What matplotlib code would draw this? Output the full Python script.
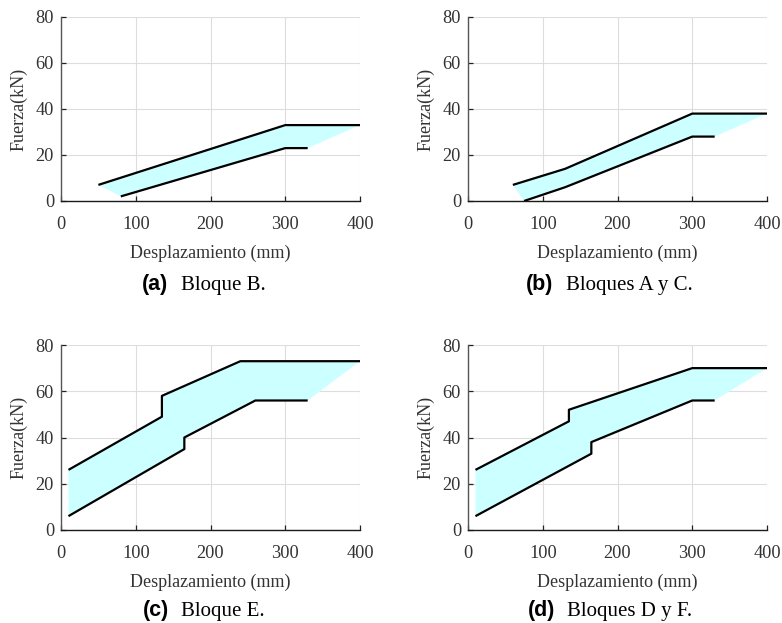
import numpy as np
import matplotlib
matplotlib.use("Agg")
import matplotlib.pyplot as plt

# Force-displacement envelopes for each block group (x in mm, y in kN)
a_upper_x = [50, 300, 400]
a_upper_y = [7, 33, 33]
a_lower_x = [80, 300, 330]
a_lower_y = [2, 23, 23]

b_upper_x = [60, 130, 300, 400]
b_upper_y = [7, 14, 38, 38]
b_lower_x = [75, 130, 300, 330]
b_lower_y = [0, 6, 28, 28]

c_upper_x = [10, 135, 135, 240, 400]
c_upper_y = [26, 49, 58, 73, 73]
c_lower_x = [10, 165, 165, 260, 330]
c_lower_y = [6, 35, 40, 56, 56]

d_upper_x = [10, 135, 135, 300, 400]
d_upper_y = [26, 47, 52, 70, 70]
d_lower_x = [10, 165, 165, 300, 330]
d_lower_y = [6, 33, 38, 56, 56]

panel_tags = ["(a)", "(b)", "(c)", "(d)"]
panel_titles = ["Bloque B.", "Bloques A y C.", "Bloque E.", "Bloques D y F."]

x_ticks = [0, 100, 200, 300, 400]
y_ticks = [0, 20, 40, 60, 80]

SERIF = "Liberation Serif"
W, H = 782, 623
fig = plt.figure(figsize=(W / 100, H / 100), dpi=100)


def px_rect(left, top, right, bottom):
    return [left / W, 1 - bottom / H, (right - left) / W, (bottom - top) / H]


rects = [
    px_rect(61, 17, 360, 201),
    px_rect(468, 17, 767, 201),
    px_rect(61, 345, 360, 530),
    px_rect(468, 345, 767, 530),
]
series = [
    (a_upper_x, a_upper_y, a_lower_x, a_lower_y),
    (b_upper_x, b_upper_y, b_lower_x, b_lower_y),
    (c_upper_x, c_upper_y, c_lower_x, c_lower_y),
    (d_upper_x, d_upper_y, d_lower_x, d_lower_y),
]
# caption anchor points: (tag left x, title left x, baseline y) in pixels
caption_pos = [(142, 181, 290), (526, 566, 290), (143, 181, 616), (528, 567, 616)]

for rect, (ux, uy, lx, ly), tag, title, (tx, sx, by) in zip(
        rects, series, panel_tags, panel_titles, caption_pos):
    ax = fig.add_axes(rect)
    poly_x = np.concatenate([ux, lx[::-1]])
    poly_y = np.concatenate([uy, ly[::-1]])
    ax.fill(poly_x, poly_y, color="#ccffff", lw=0, zorder=2)
    ax.plot(ux, uy, color="black", lw=1.6, zorder=3, solid_capstyle="butt")
    ax.plot(lx, ly, color="black", lw=1.6, zorder=3, solid_capstyle="butt")

    ax.set_xlim(0, 400)
    ax.set_ylim(0, 80)
    ax.set_xticks(x_ticks)
    ax.set_yticks(y_ticks)
    ax.grid(True, color="#dddddd", lw=0.8, zorder=0)
    ax.set_axisbelow(True)
    for s in ["top", "right"]:
        ax.spines[s].set_visible(False)
    ax.spines["left"].set_color("#555555")
    ax.spines["bottom"].set_color("#1a1a1a")
    ax.spines["left"].set_linewidth(1.0)
    ax.spines["bottom"].set_linewidth(1.0)
    ax.tick_params(direction="in", length=3.5, width=0.9, color="#222222",
                   labelsize=13.2, labelcolor="#333333")
    ax.tick_params(axis="x", pad=10.5)
    ax.tick_params(axis="y", pad=5)
    for lab in ax.get_xticklabels() + ax.get_yticklabels():
        lab.set_fontfamily(SERIF)
    ax.set_xlabel("Desplazamiento (mm)", fontfamily=SERIF, fontsize=13,
                  color="#333333", labelpad=9)
    ax.set_ylabel("Fuerza(kN)", fontfamily=SERIF, fontsize=13,
                  color="#333333", labelpad=6)

    fig.text(tx / W, 1 - by / H, tag, fontfamily=["Liberation Sans Narrow", "Liberation Sans"],
             fontweight="bold", fontsize=15.5, va="baseline", ha="left")
    fig.text(sx / W, 1 - by / H, title, fontfamily=SERIF, fontsize=15,
             va="baseline", ha="left")

fig.savefig("out.png", dpi=100)
